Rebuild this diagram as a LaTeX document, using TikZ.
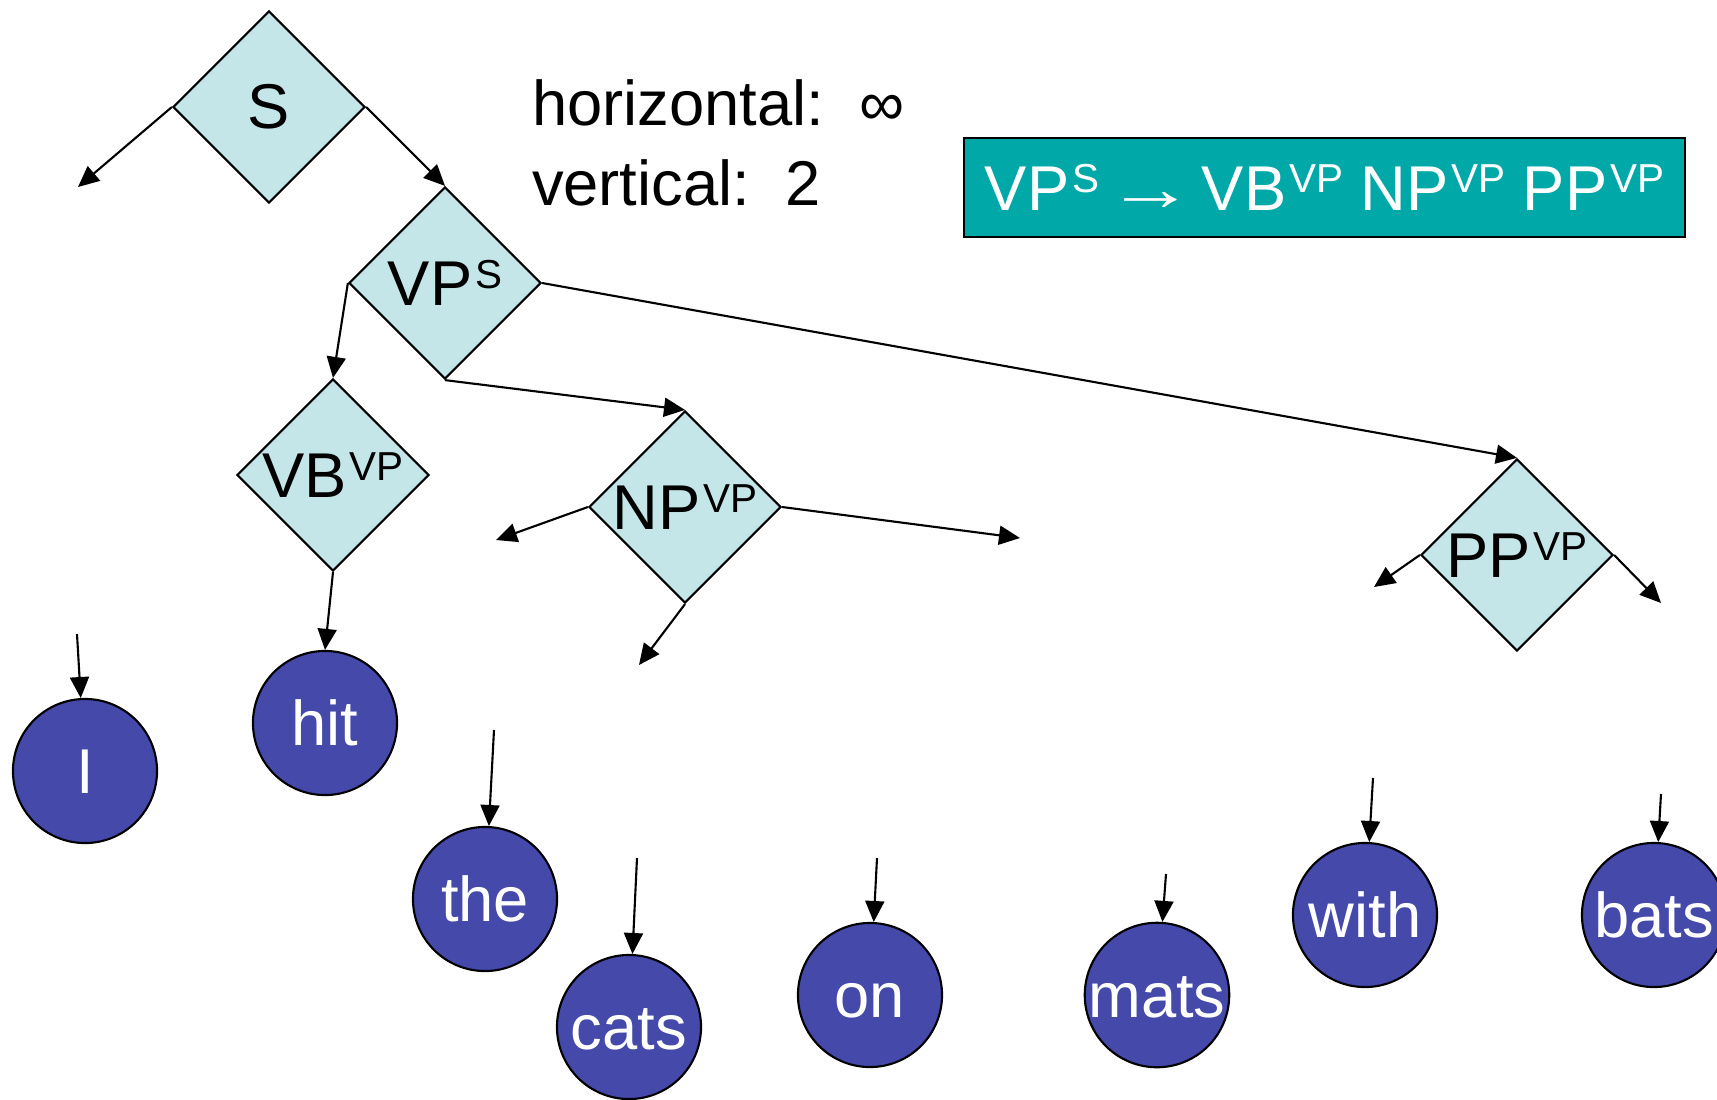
\documentclass[tikz,border=0pt]{standalone}
\usepackage{fontspec}
\setmainfont{Liberation Sans}
\usetikzlibrary{shapes.geometric,arrows.meta}
\definecolor{catfill}{RGB}{197,230,233}
\definecolor{wordfill}{RGB}{68,73,170}
\definecolor{rulefill}{RGB}{0,168,168}
\newcommand{\catsup}[1]{\kern0.8pt\raisebox{5pt}{\fontsize{11.5}{11.5}\selectfont #1}}
\tikzset{
	cat/.style={diamond,draw,fill=catfill,minimum width=1.92cm,minimum height=1.92cm,inner sep=0pt},
	word/.style={circle,draw,fill=wordfill,text=white,minimum size=1.44cm,inner sep=0pt,text height=13pt,text depth=0pt},
	edge/.style={-{Triangle[length=0.21cm,width=0.19cm]}},
	rulebox/.style={draw,fill=rulefill,text=white,minimum width=7.21cm,minimum height=0.99cm}
}
\begin{document}
\begin{tikzpicture}[x=0.01cm,y=-0.01cm,line width=0.6pt,font=\fontsize{18}{21}\selectfont]
		\useasboundingbox (0,0) rectangle (1717,1099);
		\node[cat] (s) at (269,107) {S};
		\node[cat] (vps) at (445,283) {VP\catsup{S}};
		\node[cat] (vb) at (333,475) {VB\catsup{VP}};
		\node[cat] (np) at (685,507) {NP\catsup{VP}};
		\node[cat] (pp) at (1517,555) {PP\catsup{VP}};
		\node[anchor=base west,inner sep=0pt] (horiz) at (531,125) {horizontal:\ \ ∞};
		\node[anchor=base west,inner sep=0pt] (vert) at (531,205) {vertical:\ \ 2};
		\node[rulebox] (rule) at (1324.5,187.5) {VP\catsup{S} \kern-3pt\scalebox{1.4}[1]{→}\kern-3pt{} VB\catsup{VP} NP\catsup{VP} PP\catsup{VP}};
		\foreach \w/\x/\y in {I/85/771,hit/325/723,the/485/899,cats/629/1027,on/870/995,mats/1157/995,with/1365/915,bats/1654/915}
		{
			\node[word] (\w) at (\x,\y) {\w};
		}
		\draw[edge] (s.east) -- (vps.north);
		\draw[edge] (vps.west) -- (vb.north);
		\draw[edge] (vps.south) -- (np.north);
		\draw[edge] (vps.east) -- (pp.north);
		\draw[edge] (vb.south) -- (hit.north);
		\foreach \c/\a/\x/\y in {s/west/78/187,np/west/496/540,np/east/1020/538,np/south/639/665,pp/west/1374/587,pp/east/1661/603}
		{
			\coordinate (\c-\a-end) at (\x,\y);
			\draw[edge] (\c.\a) -- (\c-\a-end);
		}
		\foreach \w/\x/\y in {I/77/634,the/494/730,cats/637/858,on/877/858,mats/1166/874,with/1373/778,bats/1661/794}
		{
			\coordinate (\w-in) at (\x,\y);
			\draw[edge] (\w-in) -- (\w);
		}
\end{tikzpicture}
\end{document}
